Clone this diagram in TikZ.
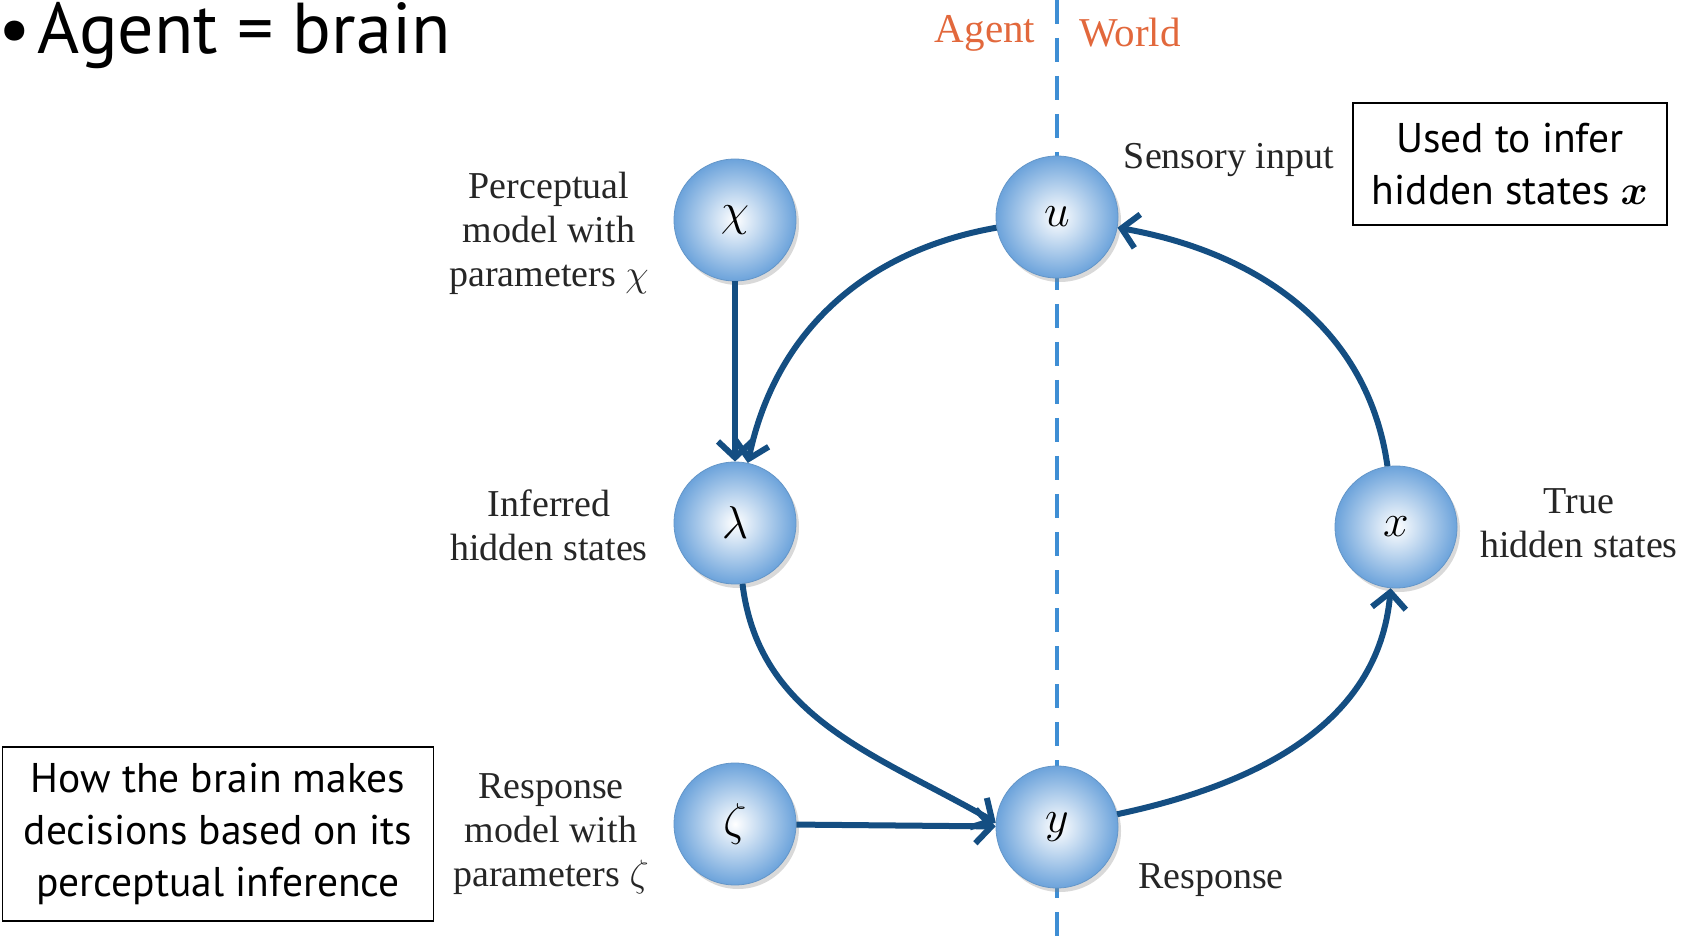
\RequirePackage{fix-cm}
\documentclass[tikz,border=0pt]{standalone}
\usepackage{amsmath}
\usepackage{fontspec}
\setmainfont{Liberation Serif}
\newfontfamily\slidefont{PT Sans}
\usetikzlibrary{arrows.meta,shadows}
\definecolor{ballblue}{RGB}{108,163,219}
\definecolor{balledge}{RGB}{100,150,200}
\definecolor{arcblue}{RGB}{20,78,130}
\definecolor{divblue}{RGB}{62,142,212}
\definecolor{sideorange}{RGB}{226,104,60}
\begin{document}
\begin{tikzpicture}
	[x=1pt,y=1pt,
	ball/.style={circle,draw=balledge,line width=0.8pt,shading=radial,inner color=white,outer color=ballblue,minimum size=122pt,inner sep=0pt,font=\fontsize{46}{50}\selectfont,drop shadow={shadow xshift=3pt,shadow yshift=-4pt,opacity=0.3}},
	tag/.style={align=center,font=\fontsize{38}{44}\selectfont,text=black!85},
	note/.style={draw,line width=1.2pt,align=center,inner sep=0pt,font=\slidefont\fontsize{41.5}{52}\selectfont},
	link/.style={line width=6pt,arcblue,-{Straight Barb[length=16pt,width=34pt]}}]
	\useasboundingbox (0,0) rectangle (1688,938);
	% agent / world divider
	\coordinate (divtop) at (1057,938);
	\coordinate (divbot) at (1057,0);
	\draw[divblue,line width=4pt,dash pattern=on 24pt off 14pt] (divtop)--(divbot);
	\node[font=\fontsize{41}{44}\selectfont,text=sideorange,name=agent] at (985,905) {Agent};
	\node[font=\fontsize{41}{44}\selectfont,text=sideorange,name=world] at (1130,905) {World};
	% title and boxes
	\node[anchor=base west,inner sep=0pt,font=\slidefont\fontsize{72}{80}\selectfont,name=title] at (-2,884) {\textbullet\hspace{0.1em}Agent = brain};
	\node[note,minimum width=314pt,minimum height=122pt,name=infer] at (1510,774) {Used to infer\\hidden states $\boldsymbol{x}$};
	\node[note,minimum width=431pt,minimum height=174pt,name=decide] at (218,104) {How the brain makes\\decisions based on its\\perceptual inference};
	% states
	\node[ball,name=chi] at (735,718) {$\chi$};
	\node[ball,name=u] at (1057,721) {$u$};
	\node[ball,name=lam] at (735,415) {$\lambda$};
	\node[ball,name=x] at (1396,411) {$x$};
	\node[ball,name=zeta] at (735,114) {$\zeta$};
	\node[ball,name=y] at (1057,111) {$y$};
	% labels
	\node[tag,name=chilab] at (549,705) {Perceptual\\model with\\parameters $\chi$};
	\node[tag,name=lamlab] at (549,413) {Inferred\\hidden states};
	\node[tag,name=zetalab] at (551,104) {Response\\model with\\parameters $\zeta$};
	\node[tag,name=ulab] at (1229,778) {Sensory input};
	\node[tag,name=xlab] at (1579,415) {True\\hidden states};
	\node[tag,name=ylab] at (1211,58) {Response};
	% arrows
	\draw[link] (u) to[out=190,in=78] (lam);
	\draw[link] (lam) to[out=-83,in=150] (y.176);
	\draw[link] (y) to[out=12,in=-95] (x);
	\draw[link] (x) to[out=98,in=-10] (u);
	\draw[link] (chi)--(lam);
	\draw[link] (zeta)--(y);
\end{tikzpicture}
\end{document}
